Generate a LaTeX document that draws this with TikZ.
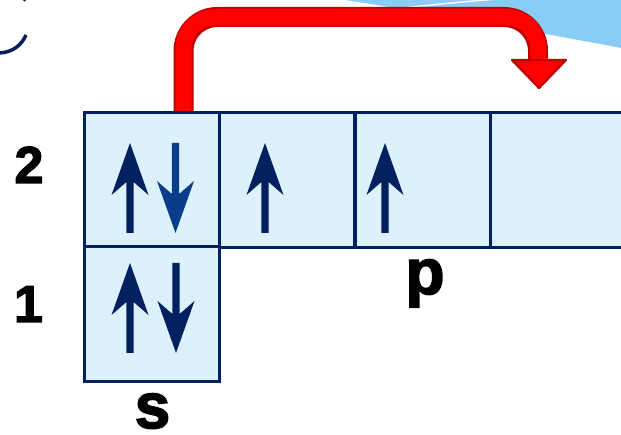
\documentclass[tikz,border=0pt]{standalone}
\usepackage{fontspec}
\newfontfamily\lblfont{Liberation Sans}[UprightFont={* Bold}, FakeBold=2.5]
\definecolor{navy}{RGB}{0,32,96}
\definecolor{midblue}{RGB}{10,60,138}
\definecolor{boxfill}{RGB}{221,241,253}
\definecolor{sky}{RGB}{136,205,245}
\definecolor{redfill}{RGB}{255,0,0}
\definecolor{redline}{RGB}{192,0,0}
\tikzset{
  orb/.style={draw=navy, fill=boxfill, line width=3pt, rectangle, inner sep=0pt, outer sep=0pt, minimum width=135pt, minimum height=134.5pt},
  digit/.style={font=\lblfont\fontsize{52}{60}\selectfont, anchor=base, inner sep=0pt},
  letter/.style={font=\lblfont\fontsize{64}{70}\selectfont, anchor=base, inner sep=0pt},
  upe/.pic={\fill (0,0) -- (18.5,52) -- (3.6,39) -- (3.6,90) -- (-3.6,90) -- (-3.6,39) -- (-18.5,52) -- cycle;},
  downe/.pic={\fill (0,0) -- (18.5,-52) -- (3.6,-39) -- (3.6,-90) -- (-3.6,-90) -- (-3.6,-39) -- (-18.5,-52) -- cycle;}
}
\begin{document}
\begin{tikzpicture}[x=1pt, y=-1pt]
\useasboundingbox (0,0) rectangle (621,435);
\clip (0,0) rectangle (621,435);
% decorative background
\fill[sky] (346,0) .. controls (420,12) and (500,25) .. (621,48) -- (621,0) -- cycle;
\draw[white, line width=1.4pt] (398,8.5) .. controls (430,5) and (460,2) .. (492,-0.5);
\draw[navy, line width=3.5pt] (0,53) .. controls (14,52) and (22,44) .. (26,35);
\fill[navy] (24.5,0.3) circle (1.3);
% orbital boxes
\node[orb] (s2) at (151.5,180) {};
\node[orb] (p1) at (287,180) {};
\node[orb] (p2) at (422.5,180) {};
\node[orb] (p3) at (557.5,180) {};
\node[orb, minimum height=135pt] (s1) at (151.5,314.5) {};
% red bent arrow
\coordinate (rs) at ([xshift=32pt]s2.north);
\coordinate (rc1) at (183.5,17);
\coordinate (rc2) at (538,17);
\coordinate (rh) at (538,61);
\coordinate (rt) at (539,88);
\draw[redline, line width=20pt, rounded corners=34pt] (rs) -- (rc1) -- (rc2) -- (rh);
\filldraw[fill=redfill, draw=redline, line width=2.2pt, line join=round] (512,60) -- (566,60) -- (rt) -- cycle;
\draw[redfill, line width=16pt, rounded corners=32pt] ([yshift=-1pt]rs) -- (rc1) -- (rc2) -- ([yshift=2pt]rh);
% redraw top edge of 2s box above the arrow foot
\draw[navy, line width=3pt] (s2.north west) -- (s2.north east);
% electrons
\fill[navy] (130,143) pic {upe};
\fill[midblue] (175.5,233) pic {downe};
\fill[navy] (265,143) pic {upe};
\fill[navy] (385,143) pic {upe};
\fill[navy] (130,263) pic {upe};
\fill[navy] (176,353) pic {downe};
% labels
\node[digit] (n2) at (29,183) {2};
\node[digit] (n1) at (28.5,322) {1};
\node[letter] (lp) at (425,294) {p};
\node[letter] (ls) at (152.5,428) {s};
\end{tikzpicture}
\end{document}
